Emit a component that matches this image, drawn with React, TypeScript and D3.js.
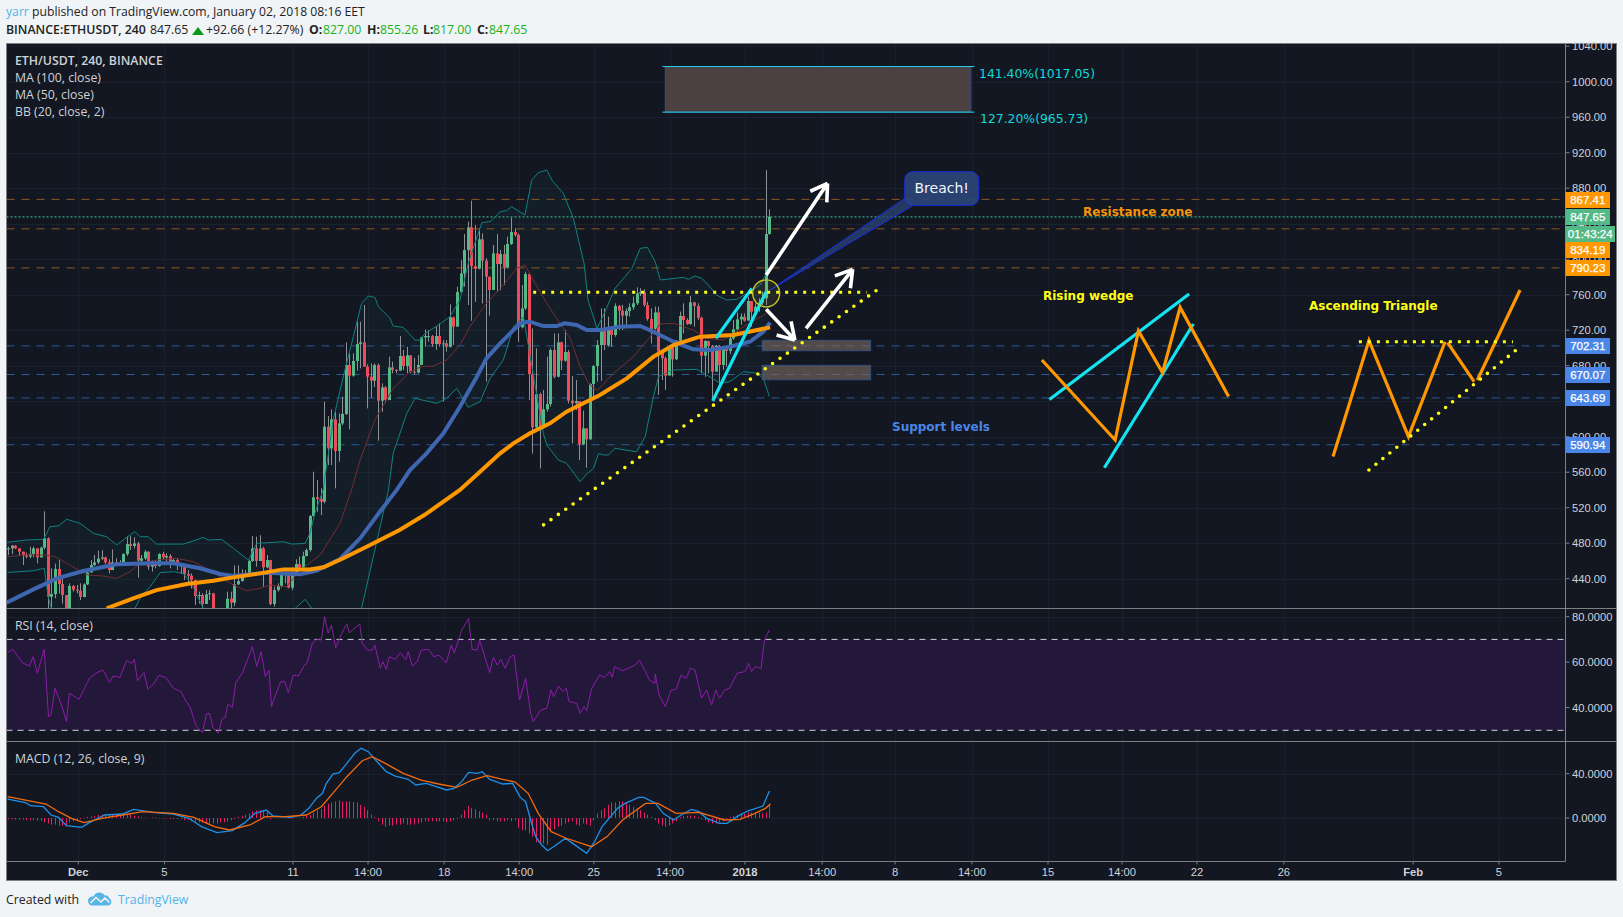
import React from "react";
import * as d3 from "d3";

const W = 1623, H = 917;
const L = 6.5, R = 1616.5, AX = 1565.5, T = 43.5, B1 = 608.5, B2 = 741.5, B3 = 861.5, B4 = 880.5;

// ---------- candle data (one value per 4h bar, 213 bars) ----------
const firstOpen = 473;
const closes = [
  474.2,477.2,474.2,470.4,466.7,464.8,467.8,474.2,464,475,
  485.5,419.7,422.7,451,434,421.6,395,431.8,427.6,426.5,
  419.4,433.6,447,455.4,458.4,462.6,464,458.4,449.8,458.4,
  457.3,457.3,467.8,479,476.8,479.8,460.3,463,470.4,453.5,
  458.4,454.3,467.8,464,465.6,459.2,461,454.3,454.7,445.3,
  443.4,438.5,420.5,421.6,411.5,422.4,423.5,404,400,396,
  398,417.5,413,433.6,437.4,442.3,444.9,459.9,474.2,459.9,
  474.2,452.8,461,411.5,427.2,431.8,445.3,444.2,429.9,447,
  456.5,452.4,465.6,472.3,510.6,531.7,529.8,526.8,611.3,586.9,
  619.5,583.9,615,625.6,680.8,668.8,685.3,704.4,706.3,678.9,
  667.6,663.1,680.8,640.6,655.6,641.3,678.1,675.2,674.4,690.9,
  679.6,691.7,673.3,672.1,680.8,711.9,713.4,713.4,704.4,713.4,
  704.4,705.2,701.4,734.5,724,763,784,810.4,835.9,792.3,
  789.3,822.4,798.3,780.3,765.3,806.6,794.6,805.8,790.8,817.1,
  830.6,827.3,723.2,744.6,783.3,670.6,610.5,648,611.3,630.8,
  636.8,697.7,667.6,706.3,685.7,695.4,640.6,637.6,640.2,591.4,
  609.4,597,659.4,679.6,703.3,720.9,703.3,722,714.6,747.3,
  742,736.4,741.6,745.8,750.3,761.5,763,748.4,732.6,721.3,
  740.1,695.8,688.3,668.8,702.2,687.2,708.2,736,731.5,727,
  751.4,747.3,734.1,691.3,707.8,702.2,673.3,702.2,680.8,698.8,
  696.6,710.8,721,732.2,735.2,730.7,752.9,740.9,746.5,751,
  755.9,828.4,847.65,
];
const highs = [
  476,478,478,474,470.4,469.3,476,476,474.2,476,
  516,486.6,451.7,457,461,440.4,421,434.8,432.9,432.9,
  434.8,434.8,449.8,461,466.7,471.6,472.3,464.8,461.8,473,
  463,461,468.6,487.4,488,486.6,481.7,466.7,472.3,471,
  461,461,468.6,470.4,468.6,467.8,463,463,458,455.4,
  449.8,446,439,425.4,423.5,427.2,427.2,424,404,400,
  405,425.4,425.4,455,455,450.5,449.8,461,488,487.4,
  489,476,466.7,461,431,434.8,447.9,447.9,446,452.8,
  461.8,464.8,470.4,474,511.8,560.5,551,541.8,639.5,623.3,
  630.8,628.2,626.3,645,706.3,693.9,693.9,729.6,729.6,748.4,
  681.5,682.6,682.6,682.6,660,657,690.2,684.5,676,713.4,
  697.7,701.4,692,689,692,712.7,721,720.2,714.6,724,
  727.7,708.9,708.9,749.1,735.2,769,799,828.4,842.3,866,
  838.5,834.8,829,801,780.3,816,828.4,810.4,816,825.4,
  846.8,834.8,829,770.9,786,784.8,722,699.6,649.6,652.6,
  690.2,699.6,716.5,716.5,707,720.2,697.7,668.4,663.9,639.5,
  629.3,609.4,660.1,680.8,708.9,744.6,744.6,735.2,724,750.3,
  748.4,748.4,744.6,750.3,757.8,768.3,767.2,766,752,744.6,
  746.5,746.5,697.7,690.2,703.3,703.3,708.9,741,750.3,733.4,
  758.5,752,750.3,735.2,708.9,708.2,703.3,703.3,703.3,701.4,
  699.6,713.4,731.5,739.7,739,739,757.8,752.9,750.3,755.9,
  763.4,900.5,856.2,
];
const lows = [
  466.7,467.8,473.5,465.6,455.4,463,463,464,457.3,464,
  473,400,400,418,423.5,412,385,390,425.4,423.5,
  416,419,432.9,446.8,454.3,456.5,461,456.5,446,449.8,
  455.4,454.3,456.5,465.6,472.3,474,441.2,455.4,461,450,
  448,451.7,453.5,461,459.2,451.7,455.4,449.8,445.3,438.5,
  434.8,429,410.4,412,400,411.5,416,398,385,388,
  392,405,405,409,433,436.6,441.5,444,459,453.5,
  461,431,451.7,410,408.5,425.4,430,434.8,429,427,
  448,450.5,452.8,464.8,470.4,510,515.5,511.8,525,568,
  568,541.8,571.9,613,624.4,608.3,667.6,674.4,677,678.9,
  631.9,644,656,595.5,628.2,638.3,641.3,671.4,671.4,675.2,
  675.2,671.4,671.4,670.6,671.4,680.8,701.4,707,701.4,697.7,
  701.4,639.5,695.8,700.3,703.3,724,760.8,769,748.4,730.7,
  752,788.6,750,662,736.4,765.3,763,765.3,770.9,789.7,
  816,825.4,707,722,742.8,641.3,581,609.4,564.3,609.4,
  628.2,633.8,665.8,666.9,675.2,684.5,637.6,592.5,630.1,573.7,
  590.6,565,596.5,641.3,662,663,697.7,701.4,701.4,712.7,
  720.2,720.2,725.9,735.2,742.8,748.4,758.5,746.5,730.7,705,
  718.3,647,663.9,652.6,669.5,667.6,686.4,707,716.5,725.9,
  725.9,724,731.5,671.4,667.6,671.4,641.3,673.3,656,675.2,
  678.9,693,708.9,718.3,726,729.6,733.4,724,739,740.9,
  748.4,748.4,827.6,
];

// ---------- overlay series, [bar index, price] ----------
const ma100: [number, number][] = [
  [-0.5,413],[7,428],[13.5,440.4],[20.9,448.7],[30.2,456.2],[39.5,457.3],[46,457.3],[53.4,451.7],[59,445.3],[62.7,443],[72,446.8],[81.3,444.9],[85.9,449],[92.4,462.2],[98,485.5],[103.5,515.5],[108.2,540],[111.9,562.5],[116.5,581.2],[121.2,603.8],[125.8,633.8],[130.5,667.6],[133.2,688.3],[137,705.2],[140.7,720.2],[143,728.5],[145.3,729.6],[149,724.7],[152.7,724.7],[155,727.7],[158.3,725.9],[161.1,720.2],[164.8,720.2],[170.4,724],[176,724.7],[179.7,718.3],[185.3,707],[190.8,698.4],[195.5,697.7],[201,701.4],[206.6,707],[210.3,718.3],[212.2,728.5],
];
const ma50: [number, number][] = [
  [27.4,406.6],[34.8,417.9],[41.3,427.2],[49.7,434],[57.1,437.8],[62.7,441.5],[70.1,446],[76.6,450.5],[84,450.5],[87.8,452.8],[93.3,463],[99.8,476],[109,494.9],[116,512],[125.8,540],[131.4,560.6],[137,581.2],[140.7,592.5],[145.3,603.8],[150.9,615],[155.5,628.2],[160.2,637.6],[164.8,647],[172.3,665.7],[179.7,690.2],[185.3,703.3],[192.7,712.7],[202,714.6],[212.2,723.2],
];
const bbUpper: [number, number][] = [
  [-0.3,481],[5.1,483.6],[9.8,484.3],[11.6,498.6],[13.9,499.4],[16.3,506.9],[20,502.4],[23.7,491.1],[27.4,487.3],[30.2,478],[33,486.6],[35.3,493],[36.7,487.3],[39,487.3],[41.3,479],[48.7,479],[51.5,482.5],[54.3,486.6],[55.7,483.6],[59.4,484.3],[62.7,474.2],[66.9,461],[69.2,479.8],[76.6,481.7],[79,479],[82.7,479.8],[84,491],[85.5,515],[87.7,540],[90.5,618.8],[93.3,667.6],[96.1,712.7],[98.4,750.3],[100.3,758.5],[102.1,757],[103.1,746.5],[106.3,733.4],[107.2,724.7],[110,723.2],[113.3,708.9],[114.7,708.9],[116.1,716.5],[119.8,725.9],[123,735.2],[125.8,754],[128.1,795.3],[131.9,841.2],[134.2,842.3],[137,853.5],[138.8,854.7],[140.2,859.2],[143.9,849.8],[145.8,889.2],[147.6,897.5],[150,900.5],[151.4,889.2],[154.6,874.2],[157.4,846],[160.4,795],[161.5,754],[164,722],[166.2,740.9],[169,767.2],[173.7,789.7],[176,812.2],[178,813.4],[180.2,797.2],[181.6,776.6],[185.7,778.4],[188,779.6],[189.4,777.3],[191.3,781],[193.2,778.4],[195,770.9],[197.3,759.6],[200.1,754],[202.9,754.8],[205.7,761.5],[209.4,770.9],[212,790],
];
const bbLower: [number, number][] = [
  [-0.2,447],[7,449],[10,451.7],[11.1,419.7],[12,406.6],[13.5,385],[33,385],[35.3,406.6],[36.7,417.9],[39.5,431],[42.3,446.8],[46,447.9],[48.7,446],[51,434.8],[54.3,406.6],[56,385],[78,385],[79.9,406.6],[82.7,416.7],[84.5,406.6],[86,385],[97,385],[98.4,406.6],[105.9,540],[107.2,581.2],[111,626.3],[113.3,643.2],[119.3,637.6],[122.1,643.2],[124.9,654.5],[128.1,633.1],[131.4,639.5],[134.2,665.8],[137.9,686.4],[140.7,724],[143.5,735],[145.8,680],[149,603.8],[150,590.6],[153.2,573.7],[155.5,570],[159.3,549.3],[161.1,558],[163,564.3],[164.4,581],[165.8,579.4],[167.2,579.4],[169,586.9],[175,583],[177.4,600],[179.7,645],[181.1,667.6],[183.9,673.3],[185.7,675.2],[191.8,675.9],[194.6,669.5],[198.3,660.1],[201,662],[204.8,673.3],[208.5,671.4],[210.3,665.8],[212,645.1],
];
const bbBasis: [number, number][] = [
  [-0.3,464.8],[5.1,466.7],[10.2,466.7],[13,464.8],[16.3,457.3],[19.5,449.8],[22.3,444.2],[26.5,443],[30.2,440.4],[33.9,447.9],[36.7,457.3],[41.3,461],[46.9,463],[51.5,459.2],[55.2,451.7],[59,442.3],[62.7,432.9],[66.4,426.5],[70.1,429.1],[72.9,432.9],[77.5,431],[81.3,449.8],[86.9,466.7],[92.4,502.4],[95.6,540],[98,573.7],[102.1,618.8],[107.2,654.5],[111.9,673.3],[115.1,678.9],[118.4,679.6],[122.1,686.4],[125.8,703.3],[128.6,724],[133.2,750.3],[137.9,770.9],[141.6,789.7],[143.9,793.5],[146.2,776.6],[150,750.3],[152.7,733.4],[156.5,710.8],[159.3,678.9],[161.6,660.1],[164,651.8],[168.6,671.4],[174.1,690.2],[178.8,712.7],[181.6,727],[185.3,727.7],[190.8,720.2],[194.6,710.8],[199.2,708.9],[204.8,724],[211.3,739],
];

// ---------- RSI, [bar index, value] ----------
const rsi: [number, number][] = [
  [-0.2,64.2],[1.2,65.6],[2.7,62.4],[4.1,59.5],[5.9,58.3],[6.9,62.4],[8.1,55.1],[10,65.6],[11.2,36],[11.9,36.8],[13,48.5],[15,40.4],[16.2,33.8],[17,46.3],[19.7,43.6],[22.6,52.9],[24.7,55.4],[26.4,56.5],[28.2,51],[29.2,53.9],[31.1,53.3],[32.9,60.6],[34.4,59.5],[35.1,61.2],[36,51.8],[37.8,55.4],[38.9,48],[40.6,50.7],[42,54.2],[43.9,53.2],[46,48.5],[48.1,47],[49.6,42.6],[50.6,40.4],[52.4,31.6],[54.1,29],[55.2,37.2],[56,37.5],[57.1,30.9],[58.5,28.7],[59.5,34.9],[60.4,35.7],[61.2,41.6],[62.4,40.1],[63.4,51],[65.2,55.1],[68,66.8],[69.2,58],[70.4,64.6],[71.6,53.6],[72.6,56.5],[73.3,40.4],[74.4,45.5],[75.9,51.4],[77,51.4],[78,46.6],[79.4,54.3],[80.8,53.9],[82.3,58.3],[83.2,59.5],[84.7,68.3],[85.8,70],[87.2,69.7],[88.1,80],[89.1,72.7],[90,76.3],[91.2,66.3],[92.9,72.7],[94.3,76.8],[95,72.9],[97.9,76.8],[98.6,68.3],[100,65.3],[101.4,65.3],[102.1,67.5],[103.6,57.3],[104.3,60.2],[105.3,56.8],[106.1,62.4],[107.8,61.2],[109.2,64.1],[110.7,61.2],[111.4,64.6],[112.5,58.3],[113.9,60.2],[115,65.3],[117.1,65.6],[118.5,62.4],[119.9,63.1],[122,59.8],[123.4,67.5],[124.2,63.9],[126.3,74.1],[128.2,79.2],[129.2,65.6],[130.6,65.3],[131.3,69.7],[132.7,62.4],[134.1,55.4],[135.1,62.1],[136.2,58.7],[137.2,61.2],[138.4,57.3],[139.8,62.4],[140.9,63.1],[142.4,43.3],[144.1,52.9],[145.5,37.5],[146.2,33.8],[148.3,38.9],[150,39.7],[151.2,47.7],[151.9,44.8],[153.3,49.5],[154.5,47],[155.4,48.5],[156.2,42.6],[158.3,41.9],[159.3,37.5],[160.4,40.4],[161.1,38.7],[162.5,48.5],[164.7,54.3],[166.1,53.3],[167.5,55.8],[168.2,53.3],[168.9,58],[171.1,56.2],[174.6,58.7],[175.8,60.9],[177.5,55.8],[178.6,52.1],[180.1,50.7],[180.2,54.8],[181.3,45.5],[183,40.4],[184.6,47.7],[186,48],[187.4,54.3],[188.8,52.9],[190,57.3],[191.3,56.5],[193.1,44.1],[194.5,47.7],[195.9,41.2],[197.1,47.7],[198.1,44.1],[199.5,47.7],[200.9,48.5],[203,55.1],[205.2,55.8],[206.2,59.5],[207,55.8],[208,58],[209.7,57.3],[210.6,69.7],[212,74.1],
];

// ---------- MACD ----------
const macdLine: [number, number][] = [
  [-0.2,17.1],[4.8,13.8],[6.2,11.1],[9.8,10.2],[11.9,2.7],[14,0.6],[16.2,-6.9],[20.4,-8.4],[22.6,-4.2],[26.8,2.7],[31.8,3.6],[34.9,7.8],[40.3,5.1],[46,3.6],[50.3,-0.3],[53.8,-7.8],[58.1,-13.2],[62.4,-11.4],[65.9,-4.2],[68.7,4.2],[71.9,7.2],[73.7,1.8],[78.7,0.6],[81.5,2.7],[83.7,8.7],[85.8,17.7],[87.5,22.3],[88.6,31.3],[90.4,39.7],[92.2,40.9],[94.3,49.3],[96.5,58.4],[98.3,62.9],[100.3,59.9],[102.1,52.9],[105.3,41.8],[107.8,37.9],[111.4,34.9],[113.5,29.8],[116.4,31.3],[119.2,28.3],[122,25.3],[124.2,26.8],[126.3,32.8],[128.2,41.2],[130.6,40.3],[132,41.8],[134.1,34.9],[137.7,30.7],[140.5,31.3],[142.6,18.6],[144.1,14.7],[145.5,-1.8],[146.9,-16.8],[148.6,-24.4],[150.2,-29.5],[151.9,-25.9],[155.2,-18.3],[157.6,-23.8],[161.1,-31.9],[163.3,-21.4],[165.4,-7.8],[169.7,8.7],[171.8,13.2],[175.6,18.6],[177,18.6],[180.3,13.2],[182.4,4.2],[185.3,-1.8],[187.4,2.7],[190.3,7.8],[192.4,5.7],[194.5,-0.3],[198.1,-4.8],[200.2,-4.8],[203,1.2],[205.9,6.3],[210.2,10.8],[212,24.4],
];
const macdSignal: [number, number][] = [
  [-0.2,19.3],[4.8,16.2],[10.5,12.6],[14,5.7],[17.6,-0.3],[21.1,-4.2],[26.1,-0.3],[31.8,2.7],[37.5,5.7],[46,4.2],[51.7,0.6],[57.4,-7.8],[61.6,-10.8],[67.3,-6.3],[71.6,1.2],[77.2,1.2],[83,2.7],[87.2,10.2],[90.8,23.8],[94.3,37.3],[98.6,51.7],[101.4,55.3],[105,49.3],[110,40.3],[115,34.3],[119.9,30.7],[124.9,27.7],[129.2,34.3],[133.4,38.2],[137.7,34.9],[141.2,32.5],[144.8,22.3],[147.6,4.2],[151.2,-12.3],[155.4,-18.3],[162.5,-25.9],[166.8,-16.8],[171.1,-1.8],[177.5,13.2],[181,13.2],[186,4.2],[192.4,5.1],[199.5,-1.8],[203.8,-1.2],[208,4.2],[210.9,8.7],[212.3,12.6],
];
const macdHist = [
  -1,-1,-1.5,-1.5,-1.5,-2,-2,-2,-2.5,-2.5,
  -4,-5,-6,-6,-7,-7,-8,
  -4,-3,-2,-1,
  0.5,1,1.5,2,3,3,3,3,
  3,2,2,3,3,3.5,2,1.5,1,
  0.5,0,0.5,0.5,-0.5,-0.5,-0.5,-1,
  -1,-1,-1,-2,-2,-3,
  -3,-4,-4,-5,-5,-5,-5,-4,-4,
  -3,-2,-1,1,2,3,
  4,6,7,7,7,6,
  -1,0,0,0.5,0,-0.5,-0.5,0,0.5,1,
  2,3,5,7,
  8,11,13,14,15,16,15,15,15,14.5,14,12,10,7,
  3,1,
  -3,-6,-8,-7,-7,-6,-6,-5,-6,-6,-6,-5,-4,
  -3,-3,-3,-3,-3,-3,-4,-3,-2,-1,
  3,7,11,9,8,6,5,3,
  -2,-2,-3,-3,-3,-2,-3,-2,
  -9,-11,-11,-14,-17,-22,-23,-23,-24,
  -12,-10,-8,-7,-5,-4,-3,-6,-7,-5,-6,-7,-2,
  4,7,9,12,14,14,15,15,14,12,10,9,7,5,3,1,
  -2,-5,-7,-8,-7,-5,-3,
  1,2,2,2,2,1,
  -1,-2,-4,-5,-5,-4,-3,-1,
  1,2,3,4,4,5,5,5,5,4,5,13,
];

// ---------- axes ----------
const priceTicks = [1040,1000,960,920,880,840,800,760,720,680,640,600,560,520,480,440];
const rsiTicks = [80,60,40];
const macdTicks = [40,0];
const timeTicks: [number, string][] = [
  [19.5,"Dec"],[43.5,"5"],[79.3,"11"],[100.2,"14:00"],[121.4,"18"],[142.3,"14:00"],[163.1,"25"],[184.3,"14:00"],[205.2,"2018"],[226.7,"14:00"],[247,"8"],[268.4,"14:00"],[289.6,"15"],[310.2,"14:00"],[331.1,"22"],[355.3,"26"],[391.3,"Feb"],[415.2,"5"],
];
const resistance = [867.41,834.19,790.23];
const supports = [702.31,670.07,643.69,590.94];
const lastPrice = 847.65;

// ---------- drawings, [bar index, price] ----------
const fibLevels: [number, string][] = [[1017.05,"141.40%(1017.05)"],[965.73,"127.20%(965.73)"]];
const fibX = [182.2,269.1];
const fibBoxX = [183,268.1];
const supportBoxX = [210,240.2];
const supportBoxes: [number, number][] = [[708.6,696.9],[680.4,664.2]];
const dottedSquare: [number, number][][] = [[[146.2,762.7],[239.1,762.7]],[[376.2,707],[419.1,707]]];
const dottedRound: [number, number][][] = [[[149.1,500.7],[241.7,764.5]],[[379,562.5],[421.7,703.3]]];
const cyanLines: [number, number][][] = [
  [[196.2,640.2],[211.1,763.4]],[[197.1,710.9],[207.1,767.2]],
  [[290,641.9],[328.9,760.8]],[[305.3,565],[330.1,727]],
];
const orangeLines: [number, number][][] = [
  [[287.9,686.4],[308.3,596.3],[314.8,719.1],[321.5,672.2],[326.4,745.7],[339.9,645.4]],
  [[369,577.8],[379,708.4],[390,600],[400.2,707]],
  [[400.9,705.9],[408.3,662]],
  [[409.2,663.9],[421.1,765.3]],
];
const arrows: [number, number][][] = [
  [[211.1,782.2],[228.2,885.5]],[[222.2,722.1],[235.2,788.6]],[[211.1,743.5],[219.1,708.9]],
];
const circleAt: [number, number] = [211.1,761.5];
const calloutBox: [number, number][] = [[249.7,898.6],[270.3,860.7]];
const calloutTail: [number, number][] = [[212.2,765.3],[249.7,868.6],[252.1,860.7]];

// ---------- scales ----------
const x = d3.scaleLinear().domain([0,212]).range([8.3,769.4]);
const y = d3.scaleLinear().domain([1000,440]).range([81.7,578.7]);
const yR = d3.scaleLinear().domain([30,70]).range([730.3,639.4]);
const yM = d3.scaleLinear().domain([0,40]).range([818,773.7]);

const UI = "'Open Sans', sans-serif";
const AXF = "'Liberation Sans', Arial, sans-serif";
const GRID = "#1b202c", AXC = "#7e8083", LBL = "#d0d3d6";
const GREEN = "#53b987", RED = "#eb4d5c";

const lineP = d3.line<[number, number]>().x(d => x(d[0])).y(d => y(d[1]));
const lineR = d3.line<[number, number]>().x(d => x(d[0])).y(d => yR(d[1]));
const lineM = d3.line<[number, number]>().x(d => x(d[0])).y(d => yM(d[1]));

function Arrow({ pts }: { pts: [number, number][] }) {
  const [a, b] = pts;
  const x1 = x(a[0]), y1 = y(a[1]), x2 = x(b[0]), y2 = y(b[1]);
  const ang = Math.atan2(y2 - y1, x2 - x1);
  const arm = (da: number) => `M${x2 + 19 * Math.cos(ang + Math.PI - da)},${y2 + 19 * Math.sin(ang + Math.PI - da)}L${x2},${y2}`;
  return <path d={`M${x1},${y1}L${x2},${y2}${arm(0.55)}${arm(-0.55)}`} fill="none" stroke="#fff" strokeWidth={3.6} />;
}

function AxisBox({ top, label, fill, w = 44.5 }: { top: number; label: string; fill: string; w?: number }) {
  return (
    <g>
      <rect x={AX} y={top} width={w} height={16} fill={fill} />
      <text x={AX + w / 2} y={top + 12} textAnchor="middle" fill="#fff" stroke="#fff" strokeWidth={0.25} fontFamily={AXF} fontSize={11.5}>{label}</text>
    </g>
  );
}

function RoundDots({ pts }: { pts: [number, number][] }) {
  const [a, b] = pts;
  const len = Math.hypot(x(b[0]) - x(a[0]), y(b[1]) - y(a[1]));
  const n = Math.round(len / 9);
  return <path d={lineP(pts)!} pathLength={n} stroke="#ffff14" strokeWidth={3.6} strokeLinecap="round" strokeDasharray="0 1" fill="none" />;
}

export default function App() {
  const bbPoly = [...bbUpper, ...[...bbLower].reverse()];
  return (
    <svg width={W} height={H} style={{ position: "fixed", left: 0, top: 0, display: "block" }}>
      <defs>
        <clipPath id="main"><rect x={L} y={T} width={AX - L} height={B1 - T} /></clipPath>
        <clipPath id="rsi"><rect x={L} y={B1} width={AX - L} height={B2 - B1} /></clipPath>
        <clipPath id="macd"><rect x={L} y={B2} width={AX - L} height={B3 - B2} /></clipPath>
      </defs>
      <rect width={W} height={H} fill="#f1f4f7" />

      {/* header */}
      <text x={6} y={16} fontFamily={UI} fontSize={12.2} fill="#222">
        <tspan fill="#4fb3e8">yarr</tspan> published on TradingView.com, January 02, 2018 08:16 EET
      </text>
      <g fontFamily={UI} fontSize={12.3} fill="#222">
        <text x={6} y={34} fontWeight={600}>BINANCE:ETHUSDT, 240</text>
        <text x={150} y={34}>847.65</text>
        <path d="M192,35L198,27L204,35Z" fill="#0a9a1a" />
        <text x={206} y={34}>+92.66 (+12.27%)</text>
        <text x={309} y={34} fontWeight={700}>O:</text>
        <text x={323} y={34} fill="#17b217">827.00</text>
        <text x={367} y={34} fontWeight={700}>H:</text>
        <text x={380} y={34} fill="#17b217">855.26</text>
        <text x={423} y={34} fontWeight={700}>L:</text>
        <text x={433} y={34} fill="#17b217">817.00</text>
        <text x={477} y={34} fontWeight={700}>C:</text>
        <text x={489} y={34} fill="#17b217">847.65</text>
      </g>

      {/* chart background */}
      <rect x={L} y={T} width={R - L} height={B4 - T} fill="#131722" />

      {/* grid */}
      <g stroke={GRID} strokeWidth={1}>
        {priceTicks.map(t => <line key={t} x1={L} x2={AX} y1={Math.round(y(t)) + 0.5} y2={Math.round(y(t)) + 0.5} />)}
        {rsiTicks.map(t => <line key={t} x1={L} x2={AX} y1={Math.round(yR(t)) + 0.5} y2={Math.round(yR(t)) + 0.5} />)}
        {macdTicks.map(t => <line key={t} x1={L} x2={AX} y1={Math.round(yM(t)) + 0.5} y2={Math.round(yM(t)) + 0.5} />)}
        {timeTicks.map(([i], k) => <line key={k} x1={Math.round(x(i)) + 0.5} x2={Math.round(x(i)) + 0.5} y1={T} y2={B3} />)}
      </g>

      {/* main pane */}
      <g clipPath="url(#main)">
        <path d={lineP(bbPoly) + "Z"} fill="#1a3a3f" fillOpacity={0.22} stroke="none" />
        {resistance.map(v => <line key={v} x1={L} x2={AX} y1={y(v)} y2={y(v)} stroke="#8a5a20" strokeDasharray="8 7" />)}
        {supports.map(v => <line key={v} x1={L} x2={AX} y1={y(v)} y2={y(v)} stroke="#2f5a96" strokeDasharray="8 7" />)}
        <line x1={L} x2={AX} y1={y(lastPrice)} y2={y(lastPrice)} stroke="#45c795" strokeDasharray="2 2" />

        {closes.map((c, i) => {
          const o = i === 0 ? firstOpen : closes[i - 1];
          const cx = Math.round(x(i));
          const top = y(Math.max(o, c)), bot = y(Math.min(o, c));
          return (
            <g key={i}>
              <line x1={cx + 0.5} x2={cx + 0.5} y1={y(highs[i])} y2={y(lows[i])} stroke="#8f9294" />
              <rect x={cx - 1} y={top} width={3} height={Math.max(1, bot - top)} fill={c >= o ? GREEN : RED} />
            </g>
          );
        })}

        <path d={lineP(bbBasis)!} fill="none" stroke="#762c33" strokeWidth={1} />
        <path d={lineP(bbUpper)!} fill="none" stroke="#0f8280" strokeWidth={1} />
        <path d={lineP(bbLower)!} fill="none" stroke="#0f8280" strokeWidth={1} />
        <path d={lineP(ma100)!} fill="none" stroke="#3f66b0" strokeWidth={4} />
        <path d={lineP(ma50)!} fill="none" stroke="#ff9800" strokeWidth={4} />

        {/* fib box */}
        <rect x={x(fibBoxX[0])} y={y(fibLevels[0][0])} width={x(fibBoxX[1]) - x(fibBoxX[0])} height={y(fibLevels[1][0]) - y(fibLevels[0][0])} fill="#4a4140" stroke="#34507e" />
        {fibLevels.map(([v]) => <line key={v} x1={x(fibX[0])} x2={x(fibX[1])} y1={y(v)} y2={y(v)} stroke="#22d3ee" />)}
        <text x={979} y={y(fibLevels[0][0]) + 11} fill="#10d8dc" fontFamily="'DejaVu Sans', sans-serif" fontSize={12.4}>{fibLevels[0][1]}</text>
        <text x={980} y={y(fibLevels[1][0]) + 10.5} fill="#10d8dc" fontFamily="'DejaVu Sans', sans-serif" fontSize={12.4}>{fibLevels[1][1]}</text>

        {/* support boxes */}
        {supportBoxes.map(([a, b]) => (
          <rect key={a} x={x(supportBoxX[0])} y={y(a)} width={x(supportBoxX[1]) - x(supportBoxX[0])} height={y(b) - y(a)} fill="#7a6a62" fillOpacity={0.62} stroke="#34507e" />
        ))}

        {/* callout tail */}
        <path d={lineP(calloutTail)! + "Z"} fill="#2a4578" fillOpacity={0.75} stroke="#1a2ce0" strokeWidth={1} />

        {cyanLines.map((l, k) => <path key={k} d={lineP(l)!} stroke="#14e4f0" strokeWidth={3.2} fill="none" />)}
        {orangeLines.map((l, k) => <path key={k} d={lineP(l)!} stroke="#ff9800" strokeWidth={3.2} fill="none" />)}
        {dottedSquare.map((l, k) => <path key={k} d={lineP(l)!} stroke="#ffff14" strokeWidth={3} strokeDasharray="3 6" fill="none" />)}
        {dottedRound.map((l, k) => <RoundDots key={k} pts={l} />)}
        <circle cx={x(circleAt[0])} cy={y(circleAt[1])} r={13.5} fill="#c8c832" fillOpacity={0.08} stroke="#c9c42c" strokeWidth={1.4} />
        {arrows.map((a, k) => <Arrow key={k} pts={a} />)}

        {/* callout */}
        <rect x={x(calloutBox[0][0])} y={y(calloutBox[0][1])} width={x(calloutBox[1][0]) - x(calloutBox[0][0])} height={y(calloutBox[1][1]) - y(calloutBox[0][1])} rx={8} fill="#2a4578" fillOpacity={0.92} stroke="#1a2ce0" />
        <text x={941.7} y={193} textAnchor="middle" fill="#f2f4f8" fontFamily="'DejaVu Sans', sans-serif" fontSize={14}>Breach!</text>

        <g fontFamily="'DejaVu Sans', sans-serif" fontWeight={700} fontSize={12}>
          <text x={1083} y={216} fill="#f5940a">Resistance zone</text>
          <text x={892} y={431} fill="#4a86e8">Support levels</text>
          <text x={1043} y={300} fill="#ffff14">Rising wedge</text>
          <text x={1309} y={310} fill="#ffff14">Ascending Triangle</text>
        </g>

        <g fontFamily={UI} fontSize={12.3} fill="#cfd2d6">
          <text x={15} y={65} fontWeight={600}>ETH/USDT, 240, BINANCE</text>
          <text x={15} y={82}>MA (100, close)</text>
          <text x={15} y={99}>MA (50, close)</text>
          <text x={15} y={116}>BB (20, close, 2)</text>
        </g>
      </g>

      {/* RSI */}
      <rect x={L} y={yR(70)} width={AX - L} height={yR(30) - yR(70)} fill="#24183a" />
      <g clipPath="url(#rsi)">
        {[70, 30].map(v => <line key={v} x1={L} x2={AX} y1={yR(v)} y2={yR(v)} stroke="#cfcfd8" strokeDasharray="6 5" />)}
        <path d={lineR(rsi)!} fill="none" stroke="#8a1ea6" strokeWidth={1} />
        <text x={15} y={630} fontFamily={UI} fontSize={12.3} fill="#cfd2d6">RSI (14, close)</text>
      </g>

      {/* MACD */}
      <g clipPath="url(#macd)">
        {macdHist.map((v, i) => {
          const cx = Math.round(x(i)) + 0.5;
          return <line key={i} x1={cx} x2={cx} y1={yM(0)} y2={yM(v)} stroke="#ff1f6b" strokeWidth={1} opacity={0.9} />;
        })}
        <path d={lineM(macdLine)!} fill="none" stroke="#1e90e8" strokeWidth={1.3} />
        <path d={lineM(macdSignal)!} fill="none" stroke="#f26a10" strokeWidth={1.3} />
        <text x={15} y={763} fontFamily={UI} fontSize={12.3} fill="#cfd2d6">MACD (12, 26, close, 9)</text>
      </g>

      {/* frames */}
      <g stroke={AXC} strokeWidth={1} fill="none">
        <rect x={L} y={T} width={R - L} height={B4 - T} />
        <line x1={AX} x2={AX} y1={T} y2={B3} />
        <line x1={L} x2={R} y1={B1} y2={B1} />
        <line x1={L} x2={R} y1={B2} y2={B2} />
        <line x1={L} x2={AX} y1={B3} y2={B3} />
      </g>

      {/* axis labels */}
      <g fontFamily={AXF} fontSize={11.2} fill={LBL}>
        {priceTicks.map(t => (
          <g key={t}>
            <line x1={AX} x2={AX + 4} y1={y(t)} y2={y(t)} stroke={AXC} />
            <text x={1572} y={y(t) + 4}>{t.toFixed(2)}</text>
          </g>
        ))}
        {rsiTicks.map(t => (
          <g key={t}>
            <line x1={AX} x2={AX + 4} y1={yR(t)} y2={yR(t)} stroke={AXC} />
            <text x={1572} y={yR(t) + 4}>{t.toFixed(4)}</text>
          </g>
        ))}
        {macdTicks.map(t => (
          <g key={t}>
            <line x1={AX} x2={AX + 4} y1={yM(t)} y2={yM(t)} stroke={AXC} />
            <text x={1572} y={yM(t) + 4}>{t.toFixed(4)}</text>
          </g>
        ))}
        {timeTicks.map(([i, s], k) => (
          <g key={k}>
            <line x1={x(i)} x2={x(i)} y1={B3} y2={B3 + 3} stroke={AXC} />
            <text x={x(i)} y={876} textAnchor="middle" fontWeight={s === "Dec" || s === "2018" || s === "Feb" ? 700 : 400}>{s}</text>
          </g>
        ))}
      </g>
      <AxisBox top={192} label={resistance[0].toFixed(2)} fill="#ff9800" />
      <AxisBox top={209} label={lastPrice.toFixed(2)} fill={GREEN} />
      <AxisBox top={226} label="01:43:24" fill={GREEN} w={49.5} />
      <AxisBox top={242} label={resistance[1].toFixed(2)} fill="#ff9800" />
      <AxisBox top={260} label={resistance[2].toFixed(2)} fill="#ff9800" />
      <AxisBox top={338} label={supports[0].toFixed(2)} fill="#4a86e8" />
      <AxisBox top={367} label={supports[1].toFixed(2)} fill="#4a86e8" />
      <AxisBox top={390} label={supports[2].toFixed(2)} fill="#4a86e8" />
      <AxisBox top={437} label={supports[3].toFixed(2)} fill="#4a86e8" />

      {/* footer */}
      <text x={6} y={904} fontFamily={UI} fontSize={12.3} fill="#222">Created with</text>
      <path d="M88,900.5C88,897.5 91,896 93.5,896.5C95,892 102,891 104.5,895.5C106.5,895 108.5,896 109,898C111,899 112,901.5 111,903.5C110.5,905 109,905.5 107,905.5L92,905.5C89.5,905.5 88,903 88,900.5Z" fill="#57b5e6" />
      <path d="M90.5,903L96,897.5L101,902L105,898L109.5,902.5" fill="none" stroke="#f1f4f7" strokeWidth={1.6} />
      <text x={118} y={904} fontFamily={UI} fontSize={12.3} fill="#4fb3e8">TradingView</text>
    </svg>
  );
}
